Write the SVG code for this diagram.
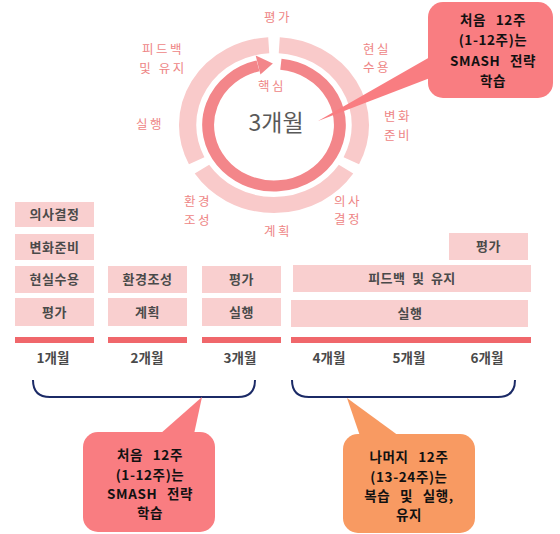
<svg xmlns="http://www.w3.org/2000/svg" width="560" height="534" viewBox="0 0 560 534">
<style>
text{font-family:"Noto Sans CJK KR","Noto Sans",sans-serif;}
.rl{font-size:12.5px;fill:#EE8585;letter-spacing:2.5px;text-anchor:middle;}
.bx{fill:#F9CFCF;}
.bt{font-size:13px;font-weight:bold;fill:#4A4A4A;text-anchor:middle;letter-spacing:0.5px;}
.bar{fill:#F0676B;}
.mo{font-size:13.5px;font-weight:bold;fill:#4A4A4A;text-anchor:middle;}
.ct{font-weight:bold;fill:#111;text-anchor:middle;font-size:13.5px;letter-spacing:0.6px;word-spacing:6px;}
.br{fill:none;stroke:#1B2A66;stroke-width:2;}
</style>
<rect width="560" height="534" fill="#fff"/>

<g id="cycle">
  <g transform="translate(274,125) scale(1.08,1)">
    <g fill="none" stroke="#F9CACA" stroke-width="16">
      <path d="M4.88 -79.85 A80 80 0 0 1 71.59 35.70"/>
      <path d="M66.71 44.16 A80 80 0 0 1 -66.71 44.16"/>
      <path d="M-71.59 35.70 A80 80 0 0 1 -4.88 -79.85"/>
    </g>
    <path d="M6.38 -60.67 A61 61 0 1 1 -14.76 -59.19" fill="none" stroke="#F3868A" stroke-width="11"/>
    <polygon points="-12.58,-50.45 -16.94,-69.5 -1.06,-61.5" fill="#F3868A"/>
  </g>
  <text class="rl" x="278" y="22">평가</text>
  <text class="rl" x="377" y="54">현실</text>
  <text class="rl" x="377" y="72">수용</text>
  <text class="rl" x="398" y="121">변화</text>
  <text class="rl" x="398" y="140">준비</text>
  <text class="rl" x="348" y="206">의사</text>
  <text class="rl" x="348" y="224">결정</text>
  <text class="rl" x="278" y="236">계획</text>
  <text class="rl" x="198" y="206">환경</text>
  <text class="rl" x="198" y="225">조성</text>
  <text class="rl" x="150" y="129">실행</text>
  <text class="rl" x="163" y="54">피드백</text>
  <text class="rl" x="163" y="73">및 유지</text>
  <text class="rl" x="272" y="91">핵심</text>
  <text x="276" y="131" font-size="23" fill="#595959" text-anchor="middle">3개월</text>
</g>

<g id="callout-top">
  <polygon points="430,57 430,78 318,121" fill="#F97D81"/>
  <rect x="428" y="2" width="125" height="96" rx="15" fill="#F97D81"/>
  <text class="ct" font-size="14.5" x="493" y="25">처음 12주</text>
  <text class="ct" font-size="14.5" x="493" y="45">(1-12주)는</text>
  <text class="ct" font-size="14.5" x="493" y="66">SMASH 전략</text>
  <text class="ct" font-size="14.5" x="493" y="86">학습</text>
</g>

<g id="month1">
  <rect class="bx" x="15" y="202" width="79" height="25"/>
  <text class="bt" x="54.5" y="219">의사결정</text>
  <rect class="bx" x="15" y="234" width="79" height="26"/>
  <text class="bt" x="54.5" y="251.5">변화준비</text>
  <rect class="bx" x="15" y="266" width="79" height="27"/>
  <text class="bt" x="54.5" y="284">현실수용</text>
  <rect class="bx" x="15" y="298" width="79" height="28"/>
  <text class="bt" x="54.5" y="316.5">평가</text>
  <rect class="bar" x="15" y="337" width="79" height="6"/>
  <text class="mo" x="53" y="363">1개월</text>
</g>
<g id="month2">
  <rect class="bx" x="108" y="266" width="79" height="27"/>
  <text class="bt" x="147.5" y="284">환경조성</text>
  <rect class="bx" x="108" y="298" width="79" height="28"/>
  <text class="bt" x="147.5" y="316.5">계획</text>
  <rect class="bar" x="108" y="337" width="79" height="6"/>
  <text class="mo" x="147" y="363">2개월</text>
</g>
<g id="month3">
  <rect class="bx" x="202" y="266" width="79" height="27"/>
  <text class="bt" x="241.5" y="284">평가</text>
  <rect class="bx" x="202" y="298" width="79" height="28"/>
  <text class="bt" x="241.5" y="316.5">실행</text>
  <rect class="bar" x="202" y="337" width="79" height="6"/>
  <text class="mo" x="240" y="363">3개월</text>
</g>
<g id="months4-6">
  <rect class="bx" x="449" y="233" width="79" height="27"/>
  <text class="bt" x="488.5" y="251">평가</text>
  <rect class="bx" x="293" y="265" width="238" height="27"/>
  <text class="bt" x="412" y="283" word-spacing="3">피드백 및 유지</text>
  <rect class="bx" x="291" y="300" width="237" height="27"/>
  <text class="bt" x="410" y="318">실행</text>
  <rect class="bar" x="291" y="337" width="240" height="6"/>
  <text class="mo" x="329" y="363">4개월</text>
  <text class="mo" x="409" y="363">5개월</text>
  <text class="mo" x="487" y="363">6개월</text>
</g>

<g id="connectors">
  <path class="br" d="M33 380 Q33 397 50 397 H238 Q255 397 255 380"/>
  <path class="br" d="M292 380 Q292 397 309 397 H498 Q515 397 515 380"/>
</g>

<g id="callout-left">
  <polygon points="160,434 194,434 202,397" fill="#F97D81"/>
  <rect x="83" y="432" width="132" height="100" rx="15" fill="#F97D81"/>
  <text class="ct" x="150" y="460">처음 12주</text>
  <text class="ct" x="150" y="480">(1-12주)는</text>
  <text class="ct" x="150" y="499">SMASH 전략</text>
  <text class="ct" x="150" y="518">학습</text>
</g>

<g id="callout-right">
  <polygon points="360,436 399,436 347,398" fill="#F89A62"/>
  <rect x="343" y="434" width="132" height="99" rx="15" fill="#F89A62"/>
  <text class="ct" x="409" y="462">나머지 12주</text>
  <text class="ct" x="409" y="482">(13-24주)는</text>
  <text class="ct" x="409" y="501" word-spacing="2">복습 및 실행,</text>
  <text class="ct" x="409" y="520">유지</text>
</g>
</svg>
